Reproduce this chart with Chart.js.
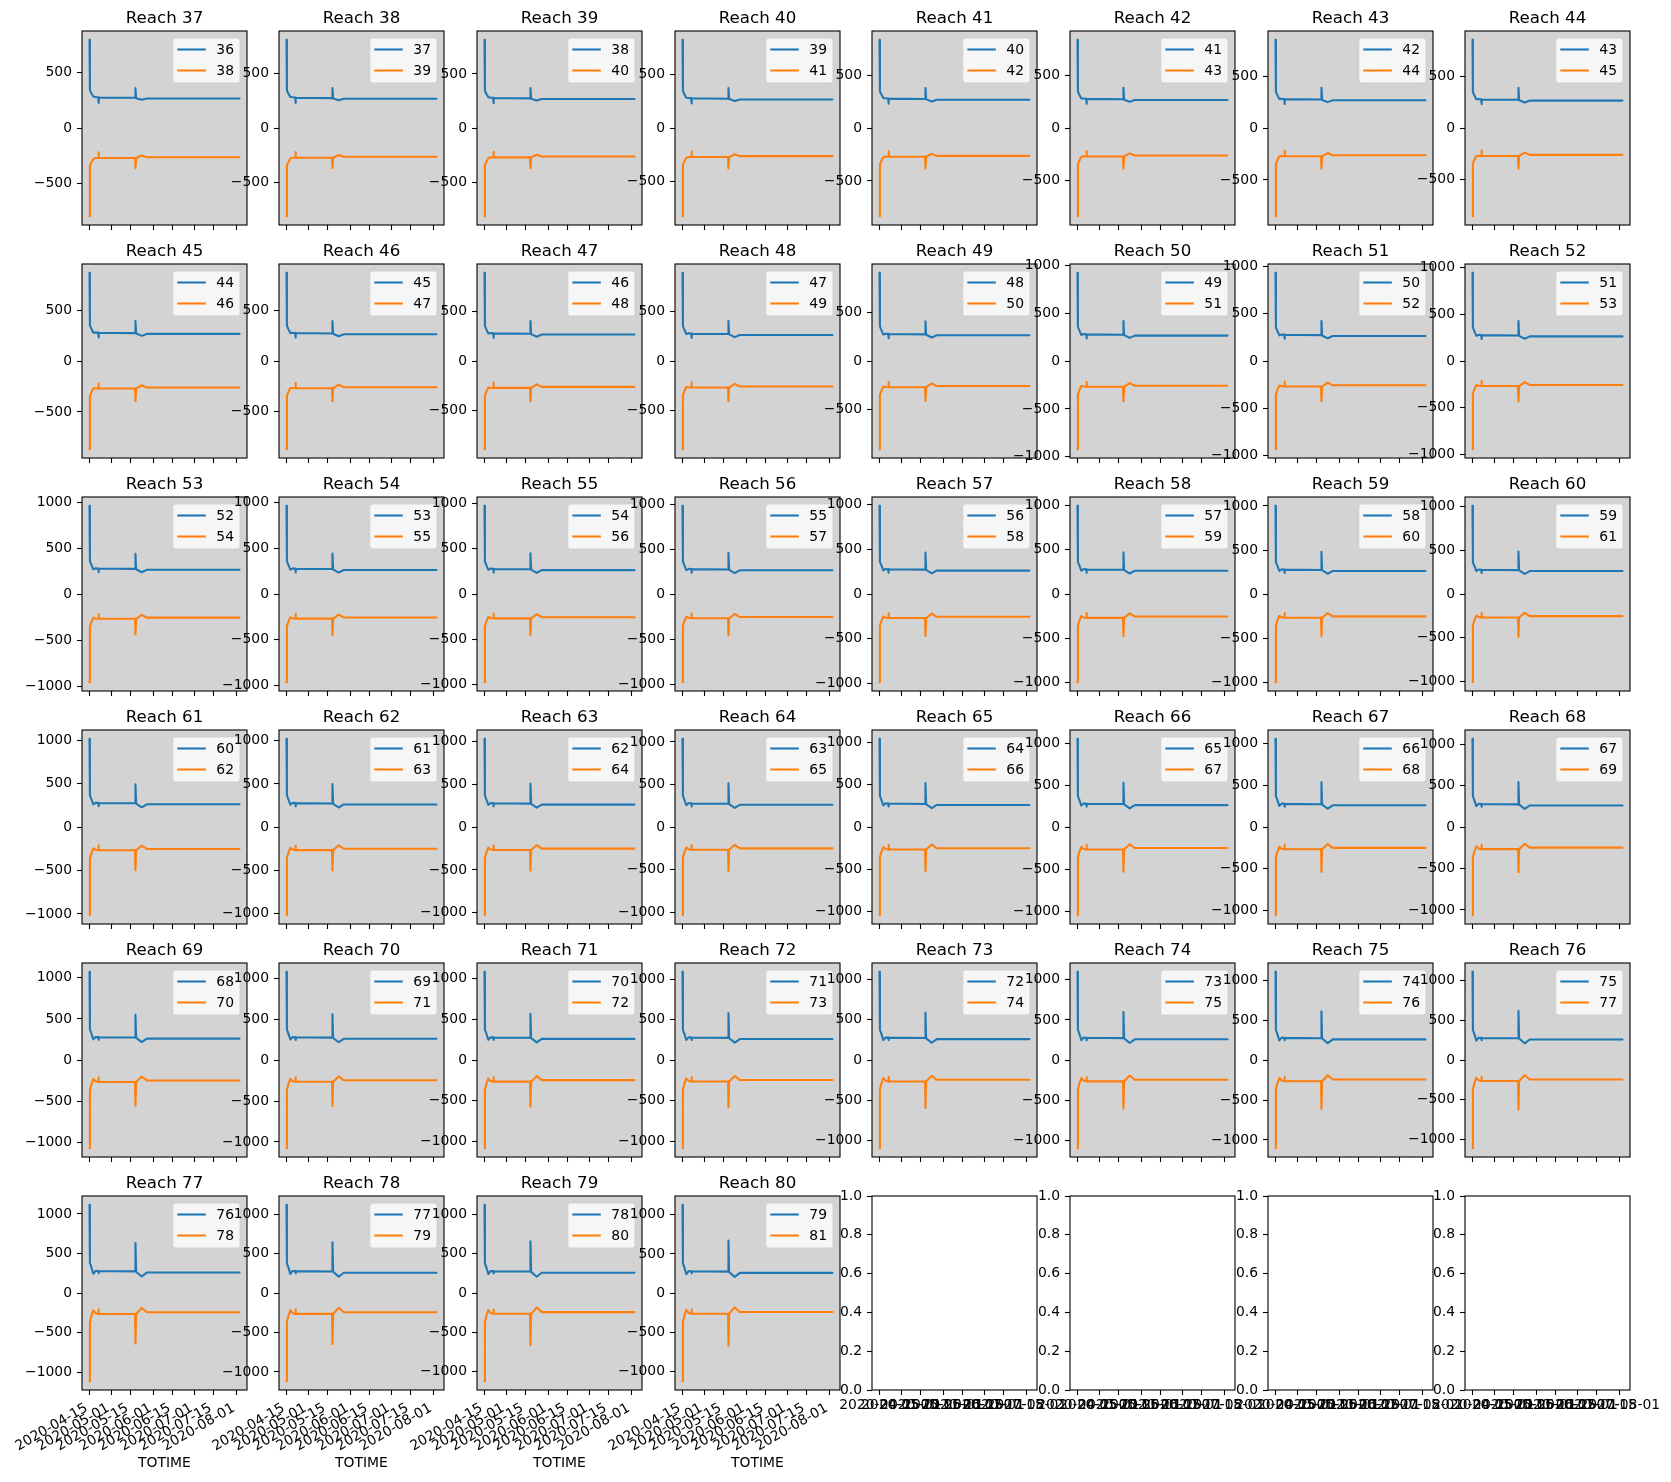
<!DOCTYPE html>
<html>
<head>
<meta charset="utf-8">
<script src="https://cdn.jsdelivr.net/npm/chart.js@4.4.1/dist/chart.umd.min.js"></script>
<style>
  html, body { margin: 0; padding: 0; background: #fff; overflow: hidden; width: 1671px; height: 1482px; }
  #fig { position: relative; width: 1671px; height: 1482px; }
  #fig canvas { position: absolute; }
</style>
</head>
<body>
<div id="fig"></div>
<script>
// days since 2020-04-15 for each sample
const days = [0, 0.3, 1.2, 2.8, 4.5, 6.3, 6.6, 6.9, 20, 33.4, 33.7, 34.2, 38.3, 42, 110];

const reaches = [37,38,39,40,41,42,43,44,45,46,47,48,49,50,51,52,53,54,55,56,57,58,
                 59,60,61,62,63,64,65,66,67,68,69,70,71,72,73,74,75,76,77,78,79,80];
const upstreamNames = [36,37,38,39,40,41,42,43,44,45,46,47,48,49,50,51,52,53,54,55,56,57,
                       58,59,60,61,62,63,64,65,66,67,68,69,70,71,72,73,74,75,76,77,78,79];
const downstreamNames = [38,39,40,41,42,43,44,45,46,47,48,49,50,51,52,53,54,55,56,57,58,59,
                         60,61,62,63,64,65,66,67,68,69,70,71,72,73,74,75,76,77,78,79,80,81];

// blue line, one row per reach
const upstreamFlow = [
  [800,345,318,286,281,279,228,276,275,274,362,270,256,268,268],
  [808,346,318,285,281,279,229,276,275,274,366,270,255,268,268],
  [816,347,319,284,281,279,229,276,275,274,370,270,254,268,268],
  [824,347,319,283,281,279,230,276,275,274,374,270,253,267,267],
  [832,348,320,282,281,279,230,276,275,274,378,270,251,267,267],
  [840,349,320,281,281,279,231,276,275,274,382,270,250,267,267],
  [848,350,321,280,281,279,231,276,275,274,386,270,249,267,267],
  [856,351,321,279,281,279,232,276,275,274,390,270,248,266,266],
  [866,351,322,278,281,279,232,276,275,274,393,270,247,266,266],
  [876,352,322,277,281,279,233,276,275,274,397,270,246,266,266],
  [886,353,323,276,281,279,234,276,275,274,401,270,244,266,266],
  [896,354,323,274,281,279,234,276,275,274,405,270,243,265,265],
  [907,355,323,273,281,279,235,276,275,274,409,270,242,265,265],
  [920,355,324,272,281,279,235,276,275,274,416,270,241,265,265],
  [933,356,324,271,281,279,236,276,275,274,423,270,240,265,265],
  [946,357,325,270,281,279,236,276,275,274,430,270,239,264,264],
  [960,358,325,269,281,279,237,276,275,274,437,270,238,264,264],
  [967,359,326,268,281,279,237,276,275,274,444,270,236,264,264],
  [974,359,326,267,281,279,238,276,275,274,451,270,235,264,264],
  [981,360,327,266,281,279,238,276,275,274,458,270,234,264,264],
  [988,361,327,265,281,279,239,276,275,274,465,270,233,263,263],
  [995,362,327,264,281,279,240,276,275,274,472,270,232,263,263],
  [1002,363,328,263,281,279,240,276,275,274,479,270,231,263,263],
  [1009,363,328,262,281,279,241,276,275,274,486,270,230,263,263],
  [1016,364,329,261,281,279,241,276,275,274,493,270,228,262,262],
  [1023,365,329,260,281,279,242,276,275,274,500,270,227,262,262],
  [1030,366,330,259,281,279,242,276,275,274,507,270,226,262,262],
  [1037,367,330,258,281,279,243,276,275,274,514,270,225,262,262],
  [1044,367,331,257,281,279,243,276,275,274,521,270,224,262,262],
  [1051,368,331,256,281,279,244,276,275,274,528,270,223,261,261],
  [1058,369,332,255,281,279,245,276,275,274,536,270,221,261,261],
  [1065,370,332,253,281,279,245,276,275,274,543,270,220,261,261],
  [1072,371,332,252,281,279,246,276,275,274,550,270,219,261,261],
  [1078,371,333,251,281,279,246,276,275,274,560,270,218,260,260],
  [1084,372,333,250,281,279,247,276,275,274,570,270,217,260,260],
  [1090,373,334,249,281,279,247,276,275,274,580,270,216,260,260],
  [1095,374,334,248,281,279,248,276,275,274,590,270,215,260,260],
  [1100,375,335,247,281,279,248,276,275,274,600,270,213,259,259],
  [1105,375,335,246,281,279,249,276,275,274,610,270,212,259,259],
  [1110,376,336,245,281,279,250,276,275,274,620,270,211,259,259],
  [1115,377,336,244,281,279,250,276,275,274,632,270,210,259,259],
  [1119,378,336,243,281,279,251,276,275,274,645,270,209,258,258],
  [1123,379,337,242,281,279,251,276,275,274,658,270,208,258,258],
  [1127,379,337,241,281,279,252,276,275,274,672,270,207,258,258]
];

// orange line, one row per reach
const downstreamFlow = [
  [-800,-340,-318,-282,-272,-272,-220,-272,-272,-272,-365,-272,-250,-265,-265],
  [-808,-341,-318,-280,-272,-272,-220,-272,-272,-272,-369,-272,-248,-264,-264],
  [-816,-342,-317,-279,-271,-272,-219,-272,-272,-272,-373,-272,-247,-264,-264],
  [-824,-342,-317,-277,-271,-271,-219,-271,-271,-271,-377,-271,-245,-263,-263],
  [-832,-343,-316,-276,-270,-271,-219,-271,-271,-271,-381,-271,-244,-263,-263],
  [-840,-344,-316,-274,-270,-271,-219,-271,-271,-271,-385,-271,-242,-262,-262],
  [-848,-345,-315,-272,-269,-271,-218,-271,-271,-271,-389,-271,-241,-262,-262],
  [-856,-345,-315,-271,-269,-271,-218,-271,-271,-271,-393,-271,-239,-261,-261],
  [-866,-346,-314,-269,-269,-270,-218,-270,-270,-270,-396,-270,-238,-261,-261],
  [-876,-347,-314,-268,-268,-270,-218,-270,-270,-270,-400,-270,-236,-260,-260],
  [-886,-348,-314,-266,-268,-270,-217,-270,-270,-270,-404,-270,-235,-260,-260],
  [-896,-348,-313,-264,-267,-270,-217,-270,-270,-270,-408,-270,-233,-259,-259],
  [-907,-349,-313,-263,-267,-270,-217,-270,-270,-270,-412,-270,-231,-258,-258],
  [-920,-350,-312,-261,-266,-269,-216,-269,-269,-269,-419,-269,-230,-258,-258],
  [-933,-351,-312,-260,-266,-269,-216,-269,-269,-269,-426,-269,-228,-257,-257],
  [-946,-351,-311,-258,-266,-269,-216,-269,-269,-269,-433,-269,-227,-257,-257],
  [-958,-352,-311,-256,-265,-269,-216,-269,-269,-269,-440,-269,-225,-256,-256],
  [-965,-353,-310,-255,-265,-269,-215,-269,-269,-269,-447,-269,-224,-256,-256],
  [-972,-354,-310,-253,-264,-268,-215,-268,-268,-268,-454,-268,-222,-255,-255],
  [-979,-354,-309,-252,-264,-268,-215,-268,-268,-268,-461,-268,-221,-255,-255],
  [-986,-355,-309,-250,-263,-268,-215,-268,-268,-268,-468,-268,-219,-254,-254],
  [-993,-356,-309,-248,-263,-268,-214,-268,-268,-268,-475,-268,-217,-253,-253],
  [-1000,-357,-308,-247,-263,-268,-214,-268,-268,-268,-482,-268,-216,-253,-253],
  [-1007,-357,-308,-245,-262,-267,-214,-267,-267,-267,-489,-267,-214,-252,-252],
  [-1014,-358,-307,-244,-262,-267,-213,-267,-267,-267,-496,-267,-213,-252,-252],
  [-1021,-359,-307,-242,-261,-267,-213,-267,-267,-267,-503,-267,-211,-251,-251],
  [-1028,-360,-306,-240,-261,-267,-213,-267,-267,-267,-510,-267,-210,-251,-251],
  [-1035,-360,-306,-239,-260,-267,-213,-267,-267,-267,-517,-267,-208,-250,-250],
  [-1042,-361,-305,-237,-260,-266,-212,-266,-266,-266,-524,-266,-207,-250,-250],
  [-1049,-362,-305,-236,-260,-266,-212,-266,-266,-266,-531,-266,-205,-249,-249],
  [-1056,-363,-305,-234,-259,-266,-212,-266,-266,-266,-539,-266,-204,-249,-249],
  [-1063,-363,-304,-232,-259,-266,-212,-266,-266,-266,-546,-266,-202,-248,-248],
  [-1070,-364,-304,-231,-258,-266,-211,-266,-266,-266,-553,-266,-200,-247,-247],
  [-1076,-365,-303,-229,-258,-265,-211,-265,-265,-265,-563,-265,-199,-247,-247],
  [-1082,-366,-303,-228,-257,-265,-211,-265,-265,-265,-573,-265,-197,-246,-246],
  [-1088,-366,-302,-226,-257,-265,-210,-265,-265,-265,-583,-265,-196,-246,-246],
  [-1093,-367,-302,-224,-257,-265,-210,-265,-265,-265,-593,-265,-194,-245,-245],
  [-1098,-368,-301,-223,-256,-265,-210,-265,-265,-265,-603,-265,-193,-245,-245],
  [-1103,-369,-301,-221,-256,-264,-210,-264,-264,-264,-613,-264,-191,-244,-244],
  [-1108,-369,-300,-220,-255,-264,-209,-264,-264,-264,-623,-264,-190,-244,-244],
  [-1113,-370,-300,-218,-255,-264,-209,-264,-264,-264,-636,-264,-188,-243,-243],
  [-1117,-371,-300,-216,-254,-264,-209,-264,-264,-264,-649,-264,-186,-242,-242],
  [-1121,-372,-299,-215,-254,-264,-208,-264,-264,-264,-662,-264,-185,-242,-242],
  [-1125,-372,-299,-213,-254,-263,-208,-263,-263,-263,-676,-263,-183,-241,-241]
];

const tickDays = [0, 16, 30, 47, 61, 77, 91, 108];
const tickLabels = ['2020-04-15','2020-05-01','2020-05-15','2020-06-01',
                    '2020-06-15','2020-07-01','2020-07-15','2020-08-01'];
const flowTicks = [-1000, -500, 0, 500, 1000];
const emptyTicks = [0, 0.2, 0.4, 0.6, 0.8, 1.0];

// figure layout (pixels)
const NCOLS = 8, NROWS = 6;
const GRID_LEFT = 81.5, GRID_TOP = 30.7, COL_STEP = 197.7, ROW_STEP = 233.1;
const AX_W = 165, AX_H = 194;
const PAD_L = 80, PAD_T = 32, PAD_R = 45;
const FONT = '"DejaVu Sans", sans-serif';
const BLUE = '#1f77b4', ORANGE = '#ff7f0e';
const X_MIN = -5.5, X_MAX = 115.5;

// axes face, frame, title and legend drawn like matplotlib
const mplAxes = {
  id: 'mplAxes',
  beforeDraw(chart, args, opts) {
    const a = chart.chartArea, ctx = chart.ctx;
    if (opts.face) {
      ctx.save();
      ctx.fillStyle = opts.face;
      ctx.fillRect(a.left, a.top, a.right - a.left, a.bottom - a.top);
      ctx.restore();
    }
  },
  afterDraw(chart, args, opts) {
    const a = chart.chartArea, ctx = chart.ctx;
    ctx.save();
    if (opts.legend) {
      ctx.font = '13.9px ' + FONT;
      const sets = chart.data.datasets;
      let tw = 0;
      sets.forEach(d => { tw = Math.max(tw, ctx.measureText(d.label).width); });
      const w = 43.5 + tw + 6, h = 45;
      const x0 = a.right - 7 - w, y0 = a.top + 7, r = 2.8;
      ctx.beginPath();
      ctx.moveTo(x0 + r, y0);
      ctx.lineTo(x0 + w - r, y0); ctx.quadraticCurveTo(x0 + w, y0, x0 + w, y0 + r);
      ctx.lineTo(x0 + w, y0 + h - r); ctx.quadraticCurveTo(x0 + w, y0 + h, x0 + w - r, y0 + h);
      ctx.lineTo(x0 + r, y0 + h); ctx.quadraticCurveTo(x0, y0 + h, x0, y0 + h - r);
      ctx.lineTo(x0, y0 + r); ctx.quadraticCurveTo(x0, y0, x0 + r, y0);
      ctx.closePath();
      ctx.fillStyle = 'rgba(255,255,255,0.8)';
      ctx.fill();
      ctx.strokeStyle = 'rgba(204,204,204,0.8)';
      ctx.lineWidth = 1;
      ctx.stroke();
      sets.forEach((d, i) => {
        const yy = y0 + 11.5 + i * 21;
        ctx.strokeStyle = d.borderColor;
        ctx.lineWidth = 2.08;
        ctx.beginPath();
        ctx.moveTo(x0 + 4.5, yy); ctx.lineTo(x0 + 33, yy);
        ctx.stroke();
        ctx.fillStyle = '#000';
        ctx.textAlign = 'left';
        ctx.textBaseline = 'middle';
        ctx.fillText(d.label, x0 + 43.5, yy + 0.5);
      });
    }
    ctx.strokeStyle = '#000';
    ctx.lineWidth = 1.1;
    ctx.strokeRect(a.left, a.top, a.right - a.left, a.bottom - a.top);
    if (opts.title) {
      ctx.fillStyle = '#000';
      ctx.font = '16.67px ' + FONT;
      ctx.textAlign = 'center';
      ctx.textBaseline = 'alphabetic';
      ctx.fillText(opts.title, (a.left + a.right) / 2, a.top - 8);
    }
    ctx.restore();
  }
};

const tickFont = { family: FONT, size: 13.9 };
const tickGrid = { display: true, drawOnChartArea: false, drawTicks: true,
                   tickLength: 5, tickWidth: 1.1, tickColor: '#000' };

const fig = document.getElementById('fig');

for (let idx = 0; idx < NCOLS * NROWS; idx++) {
  const row = Math.floor(idx / NCOLS), col = idx % NCOLS;
  const filled = idx < reaches.length;
  const bottomRow = row === NROWS - 1;
  const bottom = bottomRow ? (filled ? 90 : 40) : 15;

  const canvas = document.createElement('canvas');
  const W = PAD_L + AX_W + PAD_R, H = PAD_T + AX_H + bottom;
  canvas.width = W; canvas.height = H;
  canvas.style.width = W + 'px'; canvas.style.height = H + 'px';
  canvas.style.left = Math.round(GRID_LEFT + col * COL_STEP - PAD_L) + 'px';
  canvas.style.top = Math.round(GRID_TOP + row * ROW_STEP - PAD_T) + 'px';
  fig.appendChild(canvas);

  let datasets = [], yMin = 0, yMax = 1, yTicks = emptyTicks;
  if (filled) {
    const up = upstreamFlow[idx], down = downstreamFlow[idx];
    datasets = [
      { label: String(upstreamNames[idx]), data: days.map((d, i) => ({ x: d, y: up[i] })),
        borderColor: BLUE, backgroundColor: BLUE },
      { label: String(downstreamNames[idx]), data: days.map((d, i) => ({ x: d, y: down[i] })),
        borderColor: ORANGE, backgroundColor: ORANGE }
    ];
    const lo = Math.min(...down, ...up), hi = Math.max(...up, ...down);
    yMin = lo - 0.05 * (hi - lo);
    yMax = hi + 0.05 * (hi - lo);
    yTicks = flowTicks.filter(v => v >= yMin && v <= yMax);
  }

  const xTicks = { display: bottomRow, font: tickFont, color: '#000', autoSkip: false,
                   padding: filled ? 5 : 2,
                   minRotation: filled ? 30 : 0, maxRotation: filled ? 30 : 0,
                   labelOffset: filled ? -3 : 0,
                   callback: (v, i) => tickLabels[i] };

  new Chart(canvas, {
    type: 'line',
    data: { datasets },
    options: {
      responsive: false,
      animation: false,
      devicePixelRatio: 1,
      events: [],
      layout: { padding: { left: 0, top: PAD_T, right: PAD_R, bottom: 0 } },
      elements: {
        line: { borderWidth: 2.08, tension: 0, fill: false,
                borderJoinStyle: 'round', borderCapStyle: 'round' },
        point: { radius: 0 }
      },
      scales: {
        x: {
          type: 'linear', min: X_MIN, max: X_MAX,
          afterBuildTicks: s => { s.ticks = tickDays.map(v => ({ value: v })); },
          afterFit: s => { s.height = bottom; },
          ticks: xTicks,
          grid: tickGrid,
          border: { display: false },
          title: { display: bottomRow && filled, text: 'TOTIME', color: '#000',
                   font: tickFont, padding: { top: 0, bottom: 8 } }
        },
        y: {
          type: 'linear', min: yMin, max: yMax,
          afterBuildTicks: s => { s.ticks = yTicks.map(v => ({ value: v })); },
          afterFit: s => { s.width = PAD_L; },
          ticks: { font: tickFont, color: '#000', padding: 5,
                   callback: v => filled ? (v < 0 ? '\u2212' : '') + Math.abs(v) : v.toFixed(1) },
          grid: tickGrid,
          border: { display: false }
        }
      },
      plugins: {
        legend: { display: false },
        tooltip: { enabled: false },
        mplAxes: { face: filled ? '#d3d3d3' : null,
                   title: filled ? 'Reach ' + reaches[idx] : null,
                   legend: filled }
      }
    },
    plugins: [mplAxes]
  });
}
</script>
</body>
</html>
